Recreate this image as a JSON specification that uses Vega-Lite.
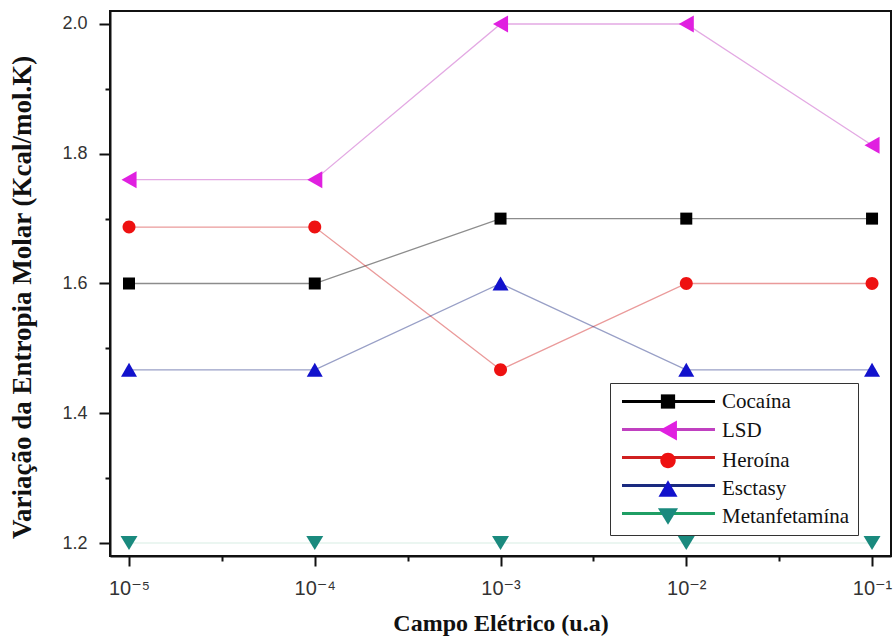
{
  "$schema": "https://vega.github.io/schema/vega-lite/v6.json",
  "width": 781,
  "height": 545,
  "autosize": "none",
  "padding": {"left": 110, "top": 11, "right": 5, "bottom": 85},
  "background": "white",
  "config": {
    "view": {"stroke": "#111111", "strokeWidth": 2},
    "axis": {
      "grid": false,
      "domainColor": "#111111",
      "domainWidth": 2,
      "tickColor": "#111111",
      "tickWidth": 2,
      "labelFont": "Liberation Sans, DejaVu Sans",
      "labelColor": "#333333",
      "titleFont": "Liberation Serif",
      "titleFontWeight": "bold",
      "titleColor": "#111111",
      "labelFlush": false,
      "labelOverlap": false
    }
  },
  "data": {
    "values": [
      {"droga": "Cocaína", "campo": 0.00001, "entropia": 1.6},
      {"droga": "Cocaína", "campo": 0.0001, "entropia": 1.6},
      {"droga": "Cocaína", "campo": 0.001, "entropia": 1.7},
      {"droga": "Cocaína", "campo": 0.01, "entropia": 1.7},
      {"droga": "Cocaína", "campo": 0.1, "entropia": 1.7},
      {"droga": "LSD", "campo": 0.00001, "entropia": 1.76},
      {"droga": "LSD", "campo": 0.0001, "entropia": 1.76},
      {"droga": "LSD", "campo": 0.001, "entropia": 2.0},
      {"droga": "LSD", "campo": 0.01, "entropia": 2.0},
      {"droga": "LSD", "campo": 0.1, "entropia": 1.813},
      {"droga": "Heroína", "campo": 0.00001, "entropia": 1.687},
      {"droga": "Heroína", "campo": 0.0001, "entropia": 1.687},
      {"droga": "Heroína", "campo": 0.001, "entropia": 1.467},
      {"droga": "Heroína", "campo": 0.01, "entropia": 1.6},
      {"droga": "Heroína", "campo": 0.1, "entropia": 1.6},
      {"droga": "Esctasy", "campo": 0.00001, "entropia": 1.467},
      {"droga": "Esctasy", "campo": 0.0001, "entropia": 1.467},
      {"droga": "Esctasy", "campo": 0.001, "entropia": 1.6},
      {"droga": "Esctasy", "campo": 0.01, "entropia": 1.467},
      {"droga": "Esctasy", "campo": 0.1, "entropia": 1.467},
      {"droga": "Metanfetamína", "campo": 0.00001, "entropia": 1.2},
      {"droga": "Metanfetamína", "campo": 0.0001, "entropia": 1.2},
      {"droga": "Metanfetamína", "campo": 0.001, "entropia": 1.2},
      {"droga": "Metanfetamína", "campo": 0.01, "entropia": 1.2},
      {"droga": "Metanfetamína", "campo": 0.1, "entropia": 1.2}
    ]
  },
  "resolve": {"scale": {"x": "independent", "y": "independent"}},
  "layer": [
    {
      "mark": {"type": "line", "strokeWidth": 1.3},
      "encoding": {
        "x": {
          "field": "campo",
          "type": "quantitative",
          "scale": {"type": "log", "domain": [0.0000079, 0.1265], "nice": false},
          "axis": {
            "orient": "bottom",
            "values": [0.000031623, 0.00031623, 0.0031623, 0.031623],
            "tickSize": 5,
            "labels": false,
            "domain": false,
            "title": null
          }
        },
        "y": {
          "field": "entropia",
          "type": "quantitative",
          "scale": {"domain": [1.18, 2.02], "nice": false, "zero": false},
          "axis": {
            "orient": "left",
            "values": [1.3, 1.5, 1.7, 1.9],
            "tickSize": 5,
            "labels": false,
            "domain": false,
            "title": null
          }
        },
        "stroke": {
          "field": "droga",
          "type": "nominal",
          "sort": ["Cocaína", "LSD", "Heroína", "Esctasy", "Metanfetamína"],
          "scale": {"range": ["#000000", "#c040c0", "#d02020", "#1a2a80", "#1f9e64"]},
          "legend": {
            "title": null,
            "orient": "none",
            "legendX": 500,
            "legendY": 372,
            "zindex": 1,
            "padding": 8,
            "rowPadding": 6,
            "symbolType": "M-5.11,0H5.22",
            "symbolSize": 324,
            "symbolStrokeWidth": 3,
            "symbolOpacity": 1,
            "symbolOffset": 39.5,
            "labelOffset": 43.5,
            "labelFont": "Liberation Serif",
            "labelFontSize": 21,
            "labelColor": "transparent",
            "labelExpr": "' '"
          }
        },
        "strokeOpacity": {
          "condition": {"test": "datum.droga === 'Metanfetamína'", "value": 0.12},
          "value": 0.45
        }
      }
    },
    {
      "mark": {"type": "point", "filled": true, "opacity": 1, "size": 256},
      "encoding": {
        "x": {
          "field": "campo",
          "type": "quantitative",
          "scale": {"type": "log", "domain": [0.0000079, 0.1265], "nice": false},
          "axis": {
            "orient": "bottom",
            "title": "Campo Elétrico (u.a)",
            "titleFontSize": 24,
            "labelFontSize": 20,
            "values": [0.00001, 0.0001, 0.001, 0.01, 0.1],
            "tickSize": 10,
            "labelPadding": 12,
            "titlePadding": 13,
            "labelExpr": "'10' + ['⁻⁵','⁻⁴','⁻³','⁻²','⁻¹'][round(log(datum.value)/LN10) + 5]"
          }
        },
        "y": {
          "field": "entropia",
          "type": "quantitative",
          "scale": {"domain": [1.18, 2.02], "nice": false, "zero": false},
          "axis": {
            "orient": "left",
            "title": "Variação da Entropia Molar (Kcal/mol.K)",
            "titleFontSize": 27,
            "titleY": 286,
            "labelFontSize": 18,
            "values": [1.2, 1.4, 1.6, 1.8, 2.0],
            "format": ".1f",
            "tickSize": 11,
            "labelPadding": 12,
            "titlePadding": 25
          }
        },
        "color": {
          "field": "droga",
          "type": "nominal",
          "scale": {
            "domain": ["Cocaína", "LSD", "Heroína", "Esctasy", "Metanfetamína"],
            "range": ["#000000", "#e020e0", "#ee1111", "#1212cc", "#1a8a7e"]
          },
          "legend": {
            "title": null,
            "orient": "none",
            "legendX": 500,
            "legendY": 372,
            "zindex": 2,
            "padding": 8,
            "rowPadding": 6,
            "symbolSize": 361,
            "symbolStrokeWidth": 1,
            "symbolOpacity": 1,
            "symbolOffset": 39.5,
            "labelOffset": 43.5,
            "labelFont": "Liberation Serif",
            "labelFontSize": 21,
            "labelColor": "#111111",
            "labelLimit": 400,
            "labelExpr": "datum.label + '\u2002\u2002 '",
            "strokeColor": "#333333"
          }
        },
        "shape": {
          "field": "droga",
          "type": "nominal",
          "scale": {
            "domain": ["Cocaína", "LSD", "Heroína", "Esctasy", "Metanfetamína"],
            "range": [
              "M-0.75,-0.75H0.75V0.75H-0.75Z",
              "M-0.94,0L0.94,-1.06L0.94,1.06Z",
              "M0.81,0A0.81,0.81 0 1,1 -0.81,0A0.81,0.81 0 1,1 0.81,0Z",
              "M0,-0.875L1,0.875L-1,0.875Z",
              "M-1.06,-0.875L1.06,-0.875L0,0.875Z"
            ]
          },
          "legend": {
            "title": null,
            "orient": "none",
            "legendX": 500,
            "legendY": 372,
            "zindex": 2,
            "padding": 8,
            "rowPadding": 6,
            "symbolSize": 361,
            "symbolStrokeWidth": 1,
            "symbolOpacity": 1,
            "symbolOffset": 39.5,
            "labelOffset": 43.5,
            "labelFont": "Liberation Serif",
            "labelFontSize": 21,
            "labelColor": "#111111",
            "labelLimit": 400,
            "labelExpr": "datum.label + '\u2002\u2002 '",
            "strokeColor": "#333333"
          }
        }
      }
    }
  ]
}
